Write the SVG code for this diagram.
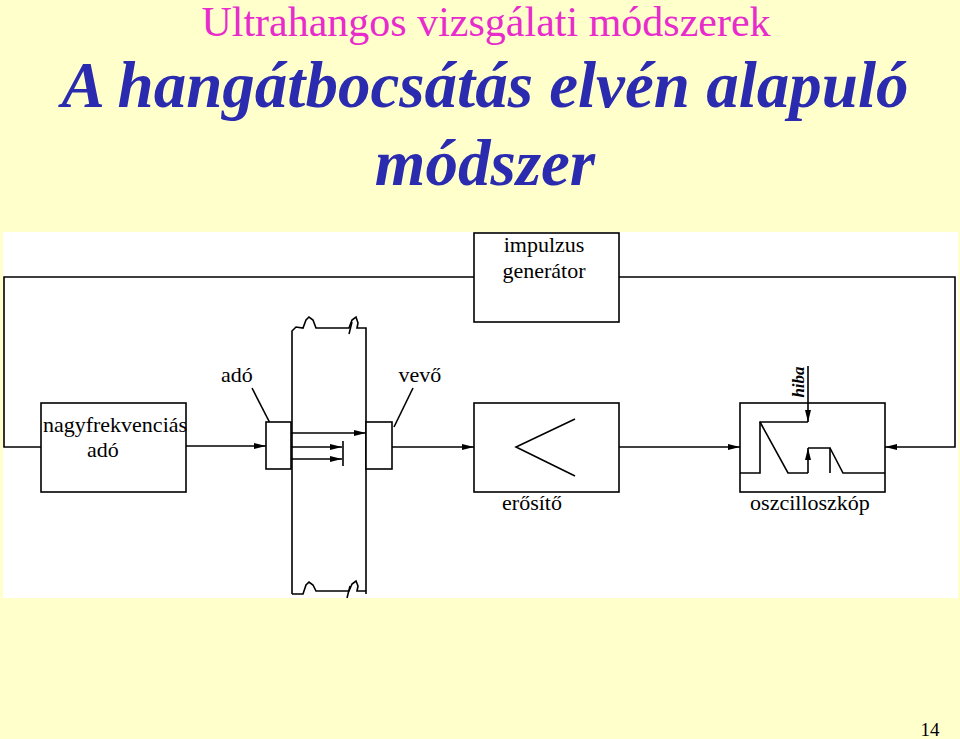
<svg xmlns="http://www.w3.org/2000/svg" width="960" height="739" viewBox="0 0 960 739">
<defs>
<marker id="a" markerWidth="12" markerHeight="6" refX="12" refY="3" orient="auto" markerUnits="userSpaceOnUse"><path d="M0,0 L12,3 L0,6 z" fill="#000"/></marker>
<style>
.s{fill:none;stroke:#000;stroke-width:1.6}
.b{fill:#fff;stroke:#000;stroke-width:1.6}
.t{font-family:"Liberation Serif",serif;font-size:22px;fill:#000}
</style>
</defs>
<rect width="960" height="739" fill="#ffffcc"/>
<text x="486" y="36" text-anchor="middle" font-family="Liberation Serif,serif" font-size="42" fill="#e82ccc">Ultrahangos vizsgálati módszerek</text>
<text x="485" y="107" text-anchor="middle" font-family="Liberation Serif,serif" font-size="65" font-weight="bold" font-style="italic" fill="#2b2bb0">A hangátbocsátás elvén alapuló</text>
<text x="485" y="185" text-anchor="middle" font-family="Liberation Serif,serif" font-size="65" font-weight="bold" font-style="italic" fill="#2b2bb0">módszer</text>
<rect x="3" y="232" width="955" height="366" fill="#fff"/>
<g id="connectors" class="s">
<polyline points="474,277 4,277 4,447 41,447"/>
<polyline points="619,277 955,277 955,447 885,447" marker-end="url(#a)"/>
<line x1="186" y1="446" x2="266" y2="446" marker-end="url(#a)"/>
<line x1="392" y1="447" x2="474" y2="447" marker-end="url(#a)"/>
<line x1="619" y1="447" x2="740" y2="447" marker-end="url(#a)"/>
<line x1="252" y1="388" x2="272" y2="427"/>
<line x1="413" y1="388" x2="394" y2="427"/>
</g>
<g id="wall">
<path class="s" d="M292,594 V331 L296,327 L303,328 L306,320 L309,317 L313,320 L316,328 L349,328 L352,320 L356,317 L358,323 L357,328 L366,328 V594"/>
<path class="s" d="M292,594 L303,594 L306,585 L309,582 L313,585 L316,591 L349,591 L352,584 L356,581 L358,586 L357,591 L366,591"/>
<line class="s" x1="352" y1="322" x2="349" y2="334"/>
<line class="s" x1="350" y1="586" x2="347" y2="598"/>
<line class="s" x1="291" y1="433" x2="366" y2="433" marker-end="url(#a)"/>
<line class="s" x1="291" y1="447" x2="342" y2="447" marker-end="url(#a)"/>
<line class="s" x1="291" y1="459" x2="342" y2="459" marker-end="url(#a)"/>
<line class="s" x1="343" y1="441" x2="343" y2="466"/>
</g>
<g id="ado-probe"><rect class="b" x="266" y="422" width="25" height="47"/><text class="t" x="237" y="382" text-anchor="middle">adó</text></g>
<g id="vevo-probe"><rect class="b" x="366" y="422" width="26" height="47"/><text class="t" x="420" y="382" text-anchor="middle">vevő</text></g>
<g id="impulzus"><rect class="b" x="474" y="233" width="145" height="89"/><text class="t" x="544" y="252" text-anchor="middle">impulzus</text><text class="t" x="544" y="278" text-anchor="middle">generátor</text></g>
<g id="nagyfrek"><rect class="b" x="41" y="403" width="145" height="89"/><text class="t" x="115" y="432" text-anchor="middle">nagyfrekvenciás</text><text class="t" x="103" y="457" text-anchor="middle">adó</text></g>
<g id="erosito"><rect class="b" x="474" y="403" width="145" height="89"/><polyline class="s" points="575,419 516,447 575,476"/><text class="t" x="532" y="510" text-anchor="middle">erősítő</text></g>
<g id="oszcilloszkop"><rect class="b" x="740" y="403" width="145" height="89"/>
<polyline class="s" points="740,473 760,473 760,422 808,422"/>
<line class="s" x1="808" y1="366" x2="808" y2="422" marker-end="url(#a)"/>
<polyline class="s" points="760,422 788,473 808,473"/>
<line class="s" x1="808" y1="473" x2="808" y2="448" marker-end="url(#a)"/>
<polyline class="s" points="808,448 830,448 830,473"/>
<polyline class="s" points="830,448 843,473 885,473"/>
<text x="804" y="382" transform="rotate(-90 804 382)" text-anchor="middle" font-family="Liberation Serif,serif" font-size="17" font-style="italic" font-weight="bold">hiba</text>
<text class="t" x="810" y="510" text-anchor="middle">oszcilloszkóp</text></g>
<text x="930" y="736" text-anchor="middle" font-family="Liberation Serif,serif" font-size="19">14</text>
</svg>
